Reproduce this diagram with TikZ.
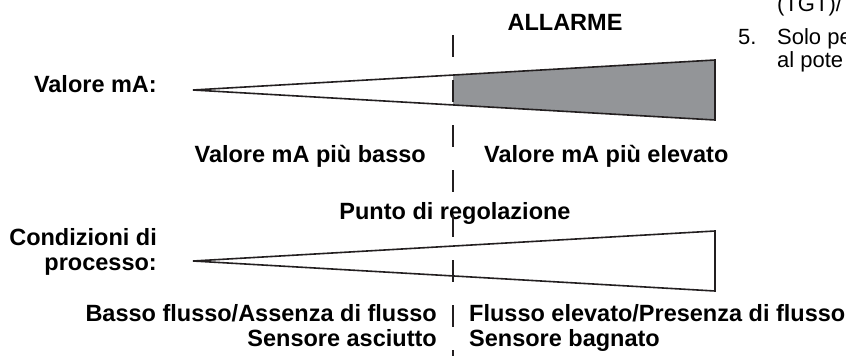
\documentclass[tikz,border=0pt]{standalone}
\usepackage{fontspec}
\setmainfont{Liberation Sans}
\definecolor{ink}{HTML}{231F20}
\definecolor{alarmgray}{HTML}{939598}
\begin{document}
\begin{tikzpicture}[x=1pt,y=-1pt,
  lab/.style={font=\fontsize{23.5}{28}\selectfont\bfseries, inner sep=0pt, text=black},
  side/.style={font=\fontsize{22}{26}\selectfont, inner sep=0pt, text=black},
  edge/.style={draw=ink, line width=1.6pt, line join=miter},
  guide/.style={draw=ink, line width=1.4pt, dash pattern=on 22pt off 23pt}]
\useasboundingbox (0,0) rectangle (846,356);
\clip (0,0) rectangle (846,356);
% top wedge
\coordinate (ta) at (193,90);
\coordinate (tt) at (715,60);
\coordinate (tb) at (715,120);
\coordinate (st) at (453,75);
\coordinate (sb) at (453,105);
% bottom wedge
\coordinate (ba) at (193,261);
\coordinate (bt) at (715,231);
\coordinate (bb) at (715,291);
% guide line
\coordinate (g0) at (453,35);
\coordinate (g1) at (453,360);

\fill[alarmgray] (st) -- (tt) -- (tb) -- (sb) -- cycle;
\draw[edge] (ta) -- (tt) -- (tb) -- cycle;
\draw[edge, fill=white] (ba) -- (bt) -- (bb) -- cycle;

% texts
\node[lab, anchor=base] (allarme) at (565,30) {ALLARME};
\node[lab, anchor=base east] (valore) at (157,92) {Valore mA:};
\node[lab, anchor=base east] (basso) at (426,162) {Valore mA più basso};
\node[lab, anchor=base west] (elevato) at (484,162) {Valore mA più elevato};
\node[lab, anchor=base] (punto) at (455,219) {Punto di regolazione};
\node[lab, anchor=base east] (cond1) at (157,245) {Condizioni di};
\node[lab, anchor=base east] (cond2) at (157,270) {processo:};
\node[lab, anchor=base east] (bf) at (437,321) {Basso flusso/Assenza di flusso};
\node[lab, anchor=base east] (sa) at (437,346) {Sensore asciutto};
\node[lab, anchor=base west] (fe) at (469,321) {Flusso elevato/Presenza di flusso};
\node[lab, anchor=base west] (sbg) at (469,346) {Sensore bagnato};

% side text (cut off as in the source)
\node[side, anchor=base west] (tgt) at (777,12) {(TGT)/};
\node[side, anchor=base west] (num) at (738,44) {5.};
\node[side, anchor=base west] (solo) at (777,44) {Solo pe};
\node[side, anchor=base west] (pote) at (777,67) {al pote};

\draw[guide] (g0) -- (g1);
\end{tikzpicture}
\end{document}
